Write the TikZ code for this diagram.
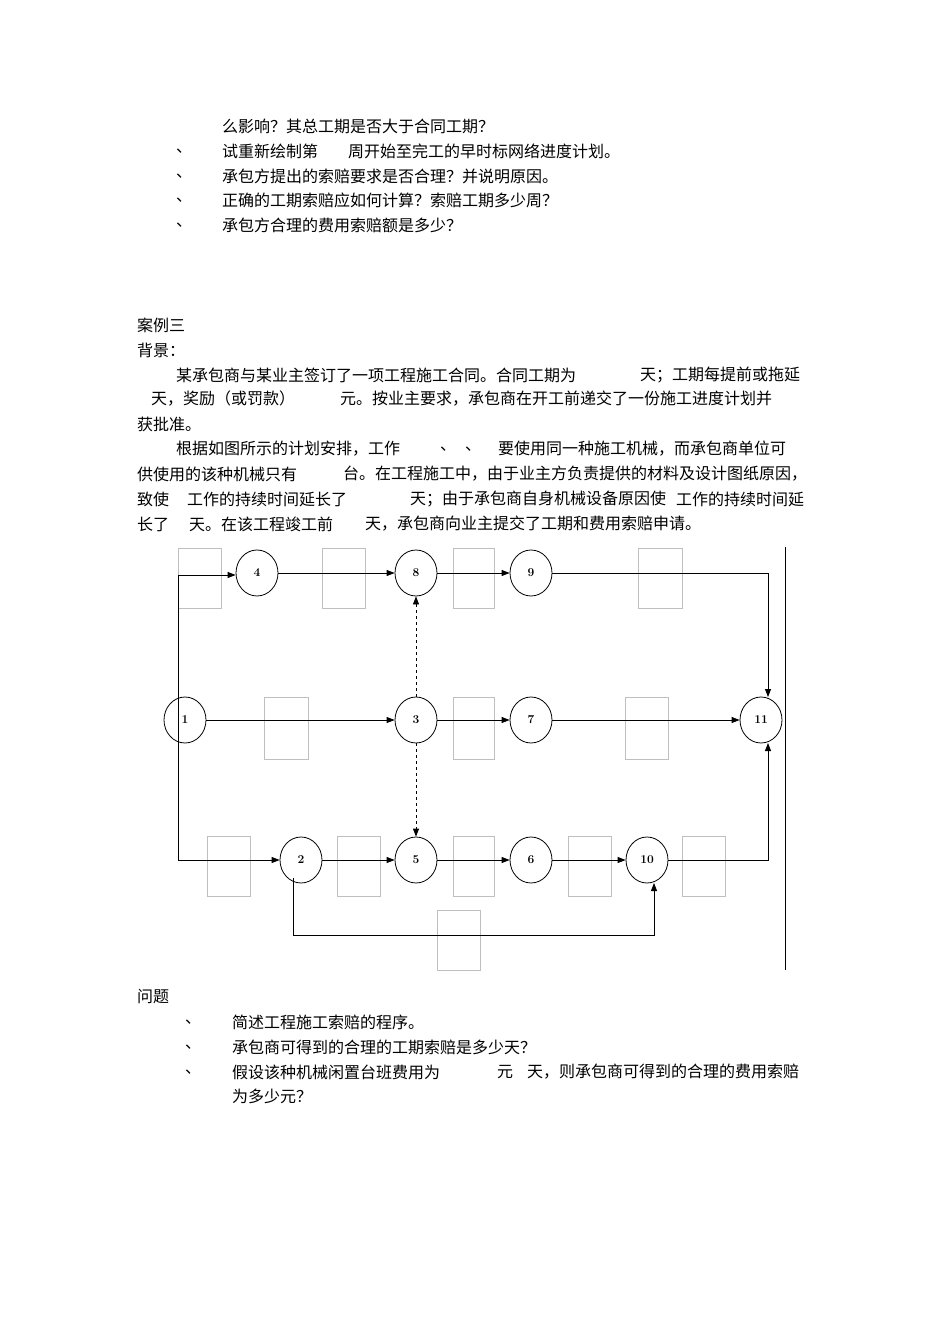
\documentclass[tikz,border=0pt]{standalone}
\usepackage{fontspec}
\newfontfamily\cjk{Noto Sans CJK SC}
\usetikzlibrary{arrows.meta,shapes.geometric}
\begin{document}
\begin{tikzpicture}[x=1pt,y=-1pt,
 t/.style={font=\cjk\fontsize{16}{16}\selectfont,anchor=west,inner sep=0pt},
 ev/.style={draw,thick,ellipse,minimum width=42pt,minimum height=46pt,inner sep=0pt,font=\bfseries\fontsize{12}{12}\selectfont},
 gb/.style={draw=black!25,line width=0.6pt},
 ar/.style={thick,-{Triangle[length=8pt,width=6pt]}},
 ln/.style={thick}]
\useasboundingbox (0,0) rectangle (950,1344);
% text
\node[t] (a1) at (222,126) {么影响？其总工期是否大于合同工期？};
\node[t] (a2) at (176,151) {、};
\node[t] (a3) at (222,151) {试重新绘制第};
\node[t] (a4) at (348,151) {周开始至完工的早时标网络进度计划。};
\node[t] (a5) at (176,176) {、};
\node[t] (a6) at (222,176) {承包方提出的索赔要求是否合理？并说明原因。};
\node[t] (a7) at (176,200) {、};
\node[t] (a8) at (222,200) {正确的工期索赔应如何计算？索赔工期多少周？};
\node[t] (a9) at (176,225) {、};
\node[t] (a10) at (222,225) {承包方合理的费用索赔额是多少？};
\node[t] (b1) at (137,325) {案例三};
\node[t] (b2) at (137,350) {背景：};
\node[t] (b3) at (176,375) {某承包商与某业主签订了一项工程施工合同。合同工期为};
\node[t] (b4) at (640,375) {天；工期每提前或拖延};
\node[t] (b5) at (151,399) {天，奖励（或罚款）};
\node[t] (b6) at (340,399) {元。按业主要求，承包商在开工前递交了一份施工进度计划并};
\node[t] (b7) at (137,424) {获批准。};
\node[t] (b8) at (176,449) {根据如图所示的计划安排，工作};
\node[t] (b9) at (440,449) {、};
\node[t] (b10) at (465,449) {、};
\node[t] (b11) at (498,449) {要使用同一种施工机械，而承包商单位可};
\node[t] (b12) at (137,474) {供使用的该种机械只有};
\node[t] (b13) at (343,474) {台。在工程施工中，由于业主方负责提供的材料及设计图纸原因，};
\node[t] (b14) at (137,499) {致使};
\node[t] (b15) at (187,499) {工作的持续时间延长了};
\node[t] (b16) at (410,499) {天；由于承包商自身机械设备原因使};
\node[t] (b17) at (676,499) {工作的持续时间延};
\node[t] (b18) at (137,524) {长了};
\node[t] (b19) at (189,524) {天。在该工程竣工前};
\node[t] (b20) at (365,524) {天，承包商向业主提交了工期和费用索赔申请。};
\node[t] (c1) at (137,997) {问题};
\node[t] (c2) at (185,1022) {、};
\node[t] (c3) at (232,1022) {简述工程施工索赔的程序。};
\node[t] (c4) at (185,1047) {、};
\node[t] (c5) at (232,1047) {承包商可得到的合理的工期索赔是多少天？};
\node[t] (c6) at (185,1072) {、};
\node[t] (c7) at (232,1072) {假设该种机械闲置台班费用为};
\node[t] (c8) at (497,1072) {元};
\node[t] (c9) at (527,1072) {天，则承包商可得到的合理的费用索赔};
\node[t] (c10) at (232,1096) {为多少元？};
% gray boxes
\foreach \xa/\xb/\ya/\yb in {178/221/548/608,322/365/548/608,453/494/548/608,638/682/548/608,
 264/308/697/759,453/494/697/759,625/668/697/759,
 207/250/836/896,337/380/836/896,453/494/836/896,568/611/836/896,682/725/836/896,437/480/910/970}
 \draw[gb] (\xa,\ya) rectangle (\xb,\yb);
\draw[thin] (785,547) -- (785,970);
% events
\node[ev] (n4) at (257,573) {4};
\node[ev] (n8) at (416,573) {8};
\node[ev] (n9) at (531,573) {9};
\node[ev] (n1) at (185,720) {1};
\node[ev] (n3) at (416,720) {3};
\node[ev] (n7) at (531,720) {7};
\node[ev] (n11) at (761,720) {11};
\node[ev] (n2) at (301,860) {2};
\node[ev] (n5) at (416,860) {5};
\node[ev] (n6) at (531,860) {6};
\node[ev] (n10) at (647,860) {10};
\coordinate (tl) at (178,575);
\coordinate (bl) at (178,860);
\draw[ln] (tl) -- (bl);
\draw[ar] (tl) -- (n4.west |- tl);
\draw[ar] (bl) -- (n2);
\draw[ar] (n4) -- (n8);
\draw[ar] (n8) -- (n9);
\draw[ar] (n1) -- (n3);
\draw[ar] (n3) -- (n7);
\draw[ar] (n7) -- (n11);
\draw[ar] (n2) -- (n5);
\draw[ar] (n5) -- (n6);
\draw[ar] (n6) -- (n10);
\draw[ar,dashed] (n3) -- (n8);
\draw[ar,dashed] (n3) -- (n5);
\draw[ar] (n9.east) -| (768,697);
\draw[ar] (n10.east) -| (768,743);
\draw[ar] (293,878) |- (654,935) -- (654,883);
\end{tikzpicture}
\end{document}
